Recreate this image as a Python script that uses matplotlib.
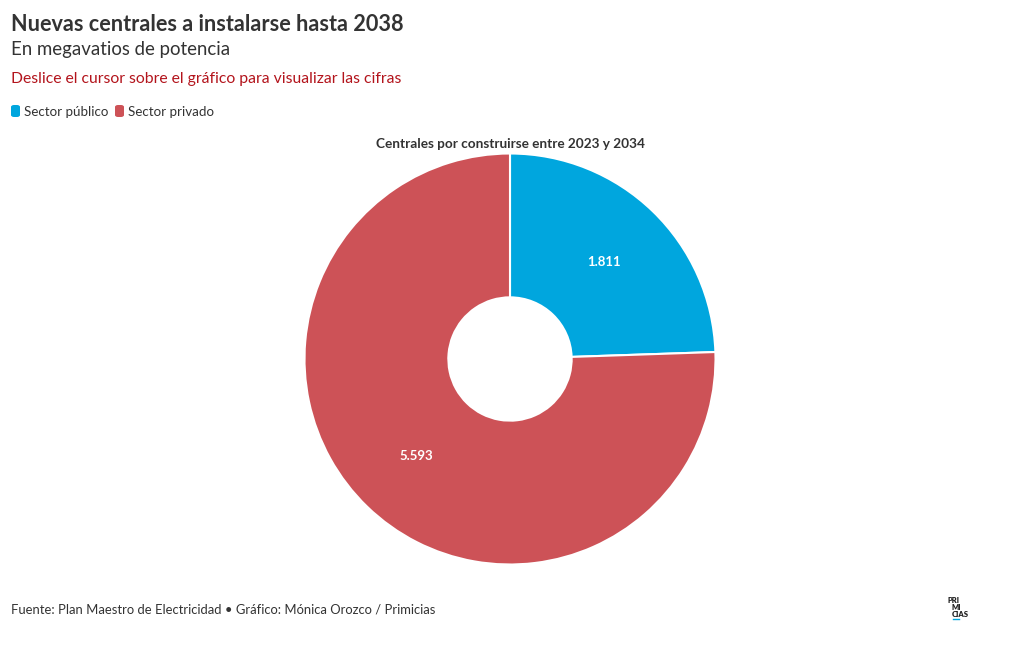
import matplotlib.pyplot as plt
from matplotlib.patches import FancyBboxPatch

plt.rcParams['font.family'] = ['Lato', 'DejaVu Sans']

sectors = ["Sector público", "Sector privado"]
megawatts = [1811, 5593]
value_labels = ["1.811", "5.593"]
colors = ["#00a6de", "#cd5257"]

W, H = 1020, 650
fig = plt.figure(figsize=(W / 100, H / 100), dpi=100)
fig.patch.set_facecolor("white")

def fx(px):
    return px / W

def fy(py):
    return 1 - py / H

# header texts
fig.text(fx(11), fy(31), "Nuevas centrales a instalarse hasta 2038", fontsize=15.6,
         fontweight="bold", color="#333333", va="baseline")
fig.text(fx(11), fy(55), "En megavatios de potencia", fontsize=13.4,
         color="#333333", va="baseline")
fig.text(fx(11), fy(83), "Deslice el cursor sobre el gráfico para visualizar las cifras",
         fontsize=11.35, color="#b3141c", va="baseline")

# legend
x = 11
for name, c in zip(sectors, colors):
    fig.patches.append(FancyBboxPatch((fx(x), fy(117)), fx(9), 12 / H,
                                      boxstyle="round,pad=0,rounding_size=0.003",
                                      transform=fig.transFigure, facecolor=c,
                                      edgecolor="none"))
    fig.text(fx(x + 13), fy(116), name, fontsize=9.6, color="#333333",
             va="baseline")
    x += 104

# pie
r = 205.5
cx, cy = 510, 359
ax = fig.add_axes([fx(cx - r), fy(cy + r), 2 * r / W, 2 * r / H])
wedges, _, autotexts = ax.pie(megawatts, colors=colors, startangle=90,
                              counterclock=False, radius=1,
                              autopct=lambda p: "", pctdistance=0.655,
                              wedgeprops=dict(width=0.7, edgecolor="white",
                                              linewidth=1.5))
for t, lab in zip(autotexts, value_labels):
    t.set_text(lab)
    t.set_color("white")
    t.set_fontsize(9.5)
    t.set_fontweight("bold")
ax.set_xlim(-1, 1)
ax.set_ylim(-1, 1)

fig.text(fx(510), fy(148), "Centrales por construirse entre 2023 y 2034",
         fontsize=9.8, fontweight="bold", color="#333333", ha="center",
         va="baseline")

# footer
fig.text(fx(11), fy(614), "Fuente: Plan Maestro de Electricidad • Gráfico: Mónica Orozco / Primicias",
         fontsize=9.35, color="#333333", va="baseline")

# logo
for i, s in enumerate(["PRI", "MI", "CIAS"]):
    fig.text(fx([948, 952, 952][i]), fy(603 + 7 * i), s,
             fontsize=5.5, fontweight="heavy", color="#222222", va="baseline")
fig.add_artist(plt.Line2D([fx(953), fx(959)], [fy(619), fy(619)],
                          color="#00a6de", linewidth=1))

fig.savefig("out.png", dpi=100)
